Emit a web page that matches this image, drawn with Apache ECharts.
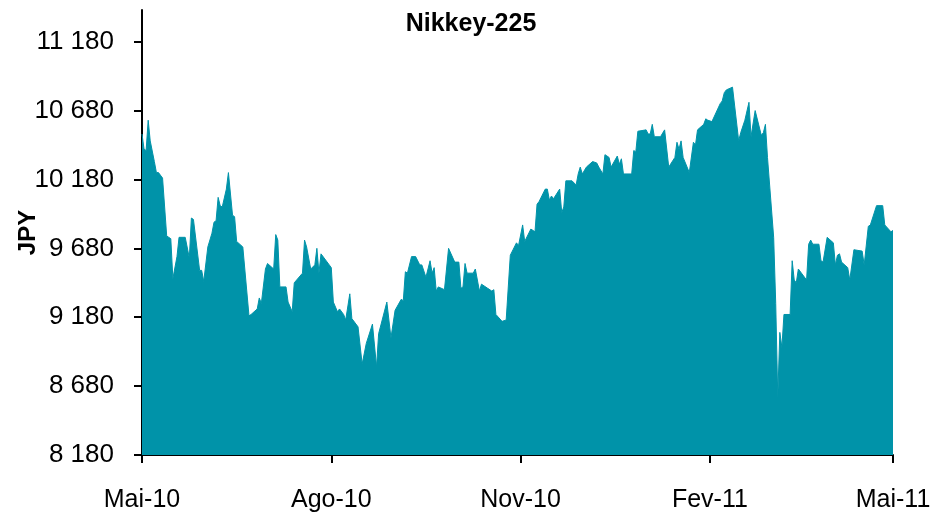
<!DOCTYPE html>
<html>
<head>
<meta charset="utf-8">
<title>Nikkey-225</title>
<script src="https://cdn.jsdelivr.net/npm/echarts@6/dist/echarts.min.js"></script>
<style>
  html, body { margin: 0; padding: 0; background: #fff; }
  #chart { width: 942px; height: 515px; }
</style>
</head>
<body>
<div id="chart"></div>
<script>
// closing values (vertices of the area)
const dates = [
  "2010-05-06", "2010-05-07", "2010-05-08", "2010-05-09", "2010-05-10", "2010-05-12", "2010-05-13", "2010-05-14",
  "2010-05-16", "2010-05-18", "2010-05-20", "2010-05-21", "2010-05-23", "2010-05-24", "2010-05-27", "2010-05-29",
  "2010-05-30", "2010-05-31", "2010-06-03", "2010-06-04", "2010-06-05", "2010-06-07", "2010-06-09", "2010-06-10",
  "2010-06-11", "2010-06-12", "2010-06-13", "2010-06-14", "2010-06-16", "2010-06-17", "2010-06-19", "2010-06-20",
  "2010-06-21", "2010-06-24", "2010-06-27", "2010-06-28", "2010-07-01", "2010-07-02", "2010-07-03", "2010-07-05",
  "2010-07-06", "2010-07-09", "2010-07-10", "2010-07-11", "2010-07-12", "2010-07-15", "2010-07-16", "2010-07-18",
  "2010-07-19", "2010-07-23", "2010-07-24", "2010-07-25", "2010-07-27", "2010-07-29", "2010-07-30", "2010-07-31",
  "2010-08-01", "2010-08-06", "2010-08-07", "2010-08-09", "2010-08-10", "2010-08-12", "2010-08-13", "2010-08-15",
  "2010-08-16", "2010-08-19", "2010-08-21", "2010-08-23", "2010-08-26", "2010-08-28", "2010-08-29", "2010-09-02",
  "2010-09-04", "2010-09-06", "2010-09-09", "2010-09-10", "2010-09-11", "2010-09-12", "2010-09-14", "2010-09-16",
  "2010-09-18", "2010-09-19", "2010-09-21", "2010-09-23", "2010-09-24", "2010-09-25", "2010-09-26", "2010-09-27",
  "2010-09-30", "2010-10-02", "2010-10-05", "2010-10-07", "2010-10-08", "2010-10-09", "2010-10-10", "2010-10-11",
  "2010-10-14", "2010-10-15", "2010-10-17", "2010-10-18", "2010-10-21", "2010-10-23", "2010-10-24", "2010-10-25",
  "2010-10-28", "2010-10-30", "2010-11-01", "2010-11-04", "2010-11-05", "2010-11-07", "2010-11-08", "2010-11-11",
  "2010-11-13", "2010-11-14", "2010-11-15", "2010-11-18", "2010-11-19", "2010-11-20", "2010-11-21", "2010-11-22",
  "2010-11-25", "2010-11-26", "2010-11-27", "2010-11-28", "2010-12-01", "2010-12-03", "2010-12-04", "2010-12-05",
  "2010-12-06", "2010-12-08", "2010-12-11", "2010-12-13", "2010-12-14", "2010-12-16", "2010-12-17", "2010-12-19",
  "2010-12-20", "2010-12-23", "2010-12-24", "2010-12-25", "2010-12-26", "2010-12-30", "2010-12-31", "2011-01-01",
  "2011-01-02", "2011-01-06", "2011-01-07", "2011-01-08", "2011-01-09", "2011-01-10", "2011-01-13", "2011-01-15",
  "2011-01-17", "2011-01-20", "2011-01-21", "2011-01-22", "2011-01-23", "2011-01-24", "2011-01-27", "2011-01-29",
  "2011-01-30", "2011-01-31", "2011-02-03", "2011-02-04", "2011-02-05", "2011-02-07", "2011-02-11", "2011-02-12",
  "2011-02-13", "2011-02-14", "2011-02-17", "2011-02-20", "2011-02-21", "2011-02-23", "2011-02-25", "2011-02-26",
  "2011-02-28", "2011-03-03", "2011-03-04", "2011-03-05", "2011-03-06", "2011-03-09", "2011-03-10", "2011-03-11",
  "2011-03-12", "2011-03-13", "2011-03-14", "2011-03-17", "2011-03-18", "2011-03-19", "2011-03-20", "2011-03-21",
  "2011-03-25", "2011-03-26", "2011-03-27", "2011-03-28", "2011-03-31", "2011-04-01", "2011-04-02", "2011-04-04",
  "2011-04-07", "2011-04-08", "2011-04-09", "2011-04-10", "2011-04-11", "2011-04-14", "2011-04-15", "2011-04-17",
  "2011-04-21", "2011-04-22", "2011-04-24", "2011-04-25", "2011-04-28", "2011-05-01", "2011-05-02", "2011-05-05",
  "2011-05-06"
];

const closes = [
  10510, 10400, 10390, 10610, 10460, 10310, 10230, 10230,
  10190, 9770, 9750, 9460, 9620, 9760, 9760, 9610,
  9900, 9890, 9520, 9520, 9440, 9690, 9790, 9870,
  9880, 10050, 9990, 9980, 10110, 10230, 9920, 9910,
  9730, 9690, 9190, 9200, 9240, 9320, 9280, 9530,
  9570, 9530, 9780, 9740, 9400, 9400, 9290, 9220,
  9430, 9500, 9740, 9690, 9530, 9560, 9680, 9500,
  9640, 9540, 9290, 9220, 9240, 9200, 9160, 9350,
  9170, 9110, 8840, 8990, 9130, 8820, 9060, 9290,
  9030, 9230, 9310, 9300, 9510, 9500, 9620, 9620,
  9560, 9560, 9470, 9590, 9500, 9540, 9370, 9400,
  9380, 9680, 9580, 9580, 9390, 9400, 9570, 9500,
  9500, 9530, 9370, 9420, 9390, 9370, 9380, 9200,
  9150, 9160, 9630, 9720, 9700, 9850, 9730, 9820,
  9800, 10000, 10020, 10110, 10110, 10030, 10060, 10040,
  10110, 9940, 9980, 10170, 10170, 10140, 10220, 10270,
  10220, 10270, 10310, 10300, 10270, 10220, 10360, 10340,
  10270, 10350, 10290, 10330, 10220, 10220, 10390, 10380,
  10530, 10540, 10510, 10510, 10580, 10490, 10490, 10540,
  10270, 10340, 10450, 10400, 10460, 10340, 10230, 10450,
  10430, 10540, 10580, 10620, 10610, 10600, 10730, 10750,
  10810, 10830, 10850, 10460, 10520, 10610, 10740, 10490,
  10680, 10500, 10520, 10580, 10340, 9760, 9280, 8600,
  9070, 8960, 9200, 9200, 9590, 9450, 9430, 9530,
  9450, 9710, 9740, 9710, 9710, 9590, 9580, 9760,
  9720, 9560, 9630, 9640, 9580, 9540, 9450, 9670,
  9660, 9560, 9840, 9850, 9990, 9990, 9850, 9800,
  9810
];

const yTicks = [8180, 8680, 9180, 9680, 10180, 10680, 11180];
const xTicks = ["2010-05-06", "2010-08-06", "2010-11-06", "2011-02-06", "2011-05-06"];
const monthNames = ["Jan", "Fev", "Mar", "Abr", "Mai", "Jun", "Jul", "Ago", "Set", "Out", "Nov", "Dez"];

const toTime = (s) => Date.parse(s);
const xTickTimes = xTicks.map(toTime);
const seriesData = dates.map((d, i) => [toTime(d), closes[i]]);

const fontFamily = "'Liberation Sans', Arial, sans-serif";
const areaColor = "#0093a9";

const chart = echarts.init(document.getElementById("chart"));

chart.setOption({
  animation: false,
  title: {
    text: "Nikkey-225",
    left: "center",
    top: 7,
    textStyle: {
      fontFamily: fontFamily,
      fontSize: 25,
      fontWeight: "bold",
      color: "#000",
    },
  },
  grid: {
    left: 142,
    right: 49,
    top: 10,
    bottom: 60,
    containLabel: false,
    outerBoundsMode: "none",
  },
  xAxis: {
    type: "value",
    min: xTickTimes[0],
    max: xTickTimes[xTickTimes.length - 1],
    axisLine: {
      show: true,
      lineStyle: { color: "#000", width: 2 },
    },
    axisTick: {
      show: true,
      customValues: xTickTimes,
      length: 8,
      lineStyle: { color: "#000", width: 2 },
    },
    axisLabel: {
      customValues: xTickTimes,
      margin: 33,
      fontFamily: fontFamily,
      fontSize: 25,
      color: "#000",
      formatter: (v) => {
        const d = new Date(v);
        return monthNames[d.getUTCMonth()] + "-" + String(d.getUTCFullYear()).slice(2);
      },
    },
    splitLine: { show: false },
  },
  yAxis: {
    type: "value",
    min: 8180,
    max: 11410,
    name: "JPY",
    nameLocation: "middle",
    nameGap: 102,
    nameMoveOverlap: false,
    nameTextStyle: {
      fontFamily: fontFamily,
      fontSize: 24,
      fontWeight: "bold",
      color: "#000",
    },
    axisLine: {
      show: true,
      lineStyle: { color: "#000", width: 2 },
    },
    axisTick: {
      show: true,
      customValues: yTicks,
      length: 8,
      lineStyle: { color: "#000", width: 2 },
    },
    axisLabel: {
      customValues: yTicks,
      margin: 28,
      fontFamily: fontFamily,
      fontSize: 26,
      color: "#000",
      formatter: (v) => String(v).replace(/\B(?=(\d{3})+(?!\d))/g, " "),
    },
    splitLine: { show: false },
  },
  series: [
    {
      name: "Nikkey-225",
      type: "line",
      data: seriesData,
      showSymbol: false,
      symbol: "none",
      lineStyle: { color: areaColor, width: 1 },
      areaStyle: { color: areaColor, opacity: 1 },
      z: 1,
    },
  ],
});
</script>
</body>
</html>
